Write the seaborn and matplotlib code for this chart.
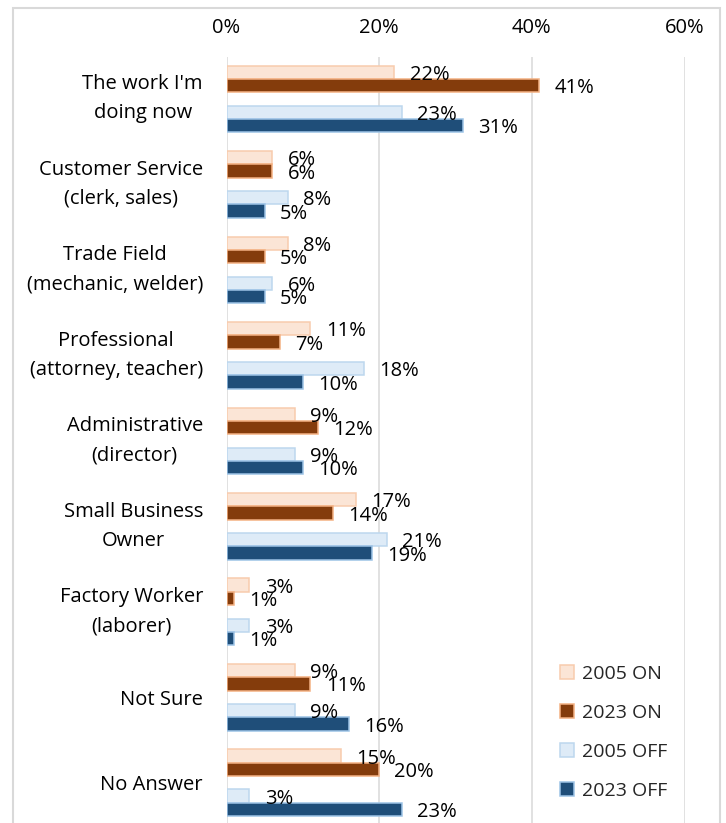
import matplotlib
matplotlib.use("Agg")
import matplotlib.pyplot as plt
from matplotlib.colors import to_hex
from matplotlib.patches import Patch, Rectangle
from matplotlib.ticker import PercentFormatter, MultipleLocator
import numpy as np
import pandas as pd
import seaborn as sns

categories = ["The work I'm\ndoing now", "Customer Service\n(clerk, sales)",
              "Trade Field\n(mechanic, welder)", "Professional\n(attorney, teacher)",
              "Administrative\n(director)", "Small Business\nOwner",
              "Factory Worker\n(laborer)", "Not Sure", "No Answer"]
on_2005 = [22, 6, 8, 11, 9, 17, 3, 9, 15]
on_2023 = [41, 6, 5, 7, 12, 14, 1, 11, 20]
off_2005 = [23, 8, 6, 18, 9, 21, 3, 9, 3]
off_2023 = [31, 5, 5, 10, 10, 19, 1, 16, 23]
series = ["2005 ON", "2023 ON", "2005 OFF", "2023 OFF"]
fills = ["#FBE5D6", "#843C0C", "#DEEBF7", "#1F4E79"]
edges = ["#F8CBAD", "#F4B183", "#BDD7EE", "#9DC3E6"]

df = pd.DataFrame({
    "category": categories * 4,
    "series": np.repeat(series, len(categories)),
    "value": on_2005 + on_2023 + off_2005 + off_2023,
})

sns.set_theme(style="white")
plt.rcParams["font.family"] = ["Open Sans", "DejaVu Sans"]

fig = plt.figure(figsize=(7.26, 8.23), dpi=100)
ax = fig.add_axes([226.5 / 726, 0, (684.5 - 226.5) / 726, 1 - 57 / 823])

# empty slot in the middle gives the gap between ON and OFF pairs
gap = " "
order = series[:2] + [gap] + series[2:]
pal = dict(zip(series, fills))
pal[gap] = "white"
sns.barplot(data=df, y="category", x="value", hue="series", hue_order=order,
            order=categories, palette=pal, orient="h", width=0.78,
            saturation=1, errorbar=None, legend=False, linewidth=1.1, ax=ax)

for cont in ax.containers:
    if len(cont) == 0:
        continue
    fc = to_hex(cont[0].get_facecolor())
    if fc.upper() not in fills:
        continue
    ec = edges[fills.index(fc.upper())]
    for bar in cont:
        bar.set_edgecolor(ec)
    for t in ax.bar_label(cont, fmt="{:.0f}%", padding=11, fontsize=14.5, color="black"):
        t.set_va("center_baseline")

ax.set_xlim(0, 60)
ax.set_ylim(8.47, -0.49)
ax.xaxis.set_major_locator(MultipleLocator(20))
ax.xaxis.set_major_formatter(PercentFormatter(100, decimals=0))
ax.xaxis.tick_top()
ax.tick_params(axis="x", length=0, pad=14, labelsize=14.5, colors="black")
ax.tick_params(axis="y", length=0, pad=17, labelsize=14.5, colors="black")
for lab in ax.get_yticklabels():
    lab.set_multialignment("center")
    if "\n" in lab.get_text():
        lab.set_linespacing(1.6)
        lab.set_va("center")
ax.grid(axis="x", color="#D9D9D9", lw=1.1)
ax.set_axisbelow(True)
for s in ax.spines.values():
    s.set_visible(False)
ax.set_xlabel("")
ax.set_ylabel("")

handles = [Patch(facecolor=f, edgecolor=e, lw=1.1, label=s)
           for s, f, e in zip(series, fills, edges)]
ax.legend(handles=handles, loc="upper left", bbox_to_anchor=(550 / 726, 1 - 655 / 823),
          bbox_transform=fig.transFigure, fontsize=14, frameon=True, fancybox=False,
          framealpha=1, facecolor="white", edgecolor="white", borderaxespad=0,
          borderpad=0.5, handlelength=0.72, handleheight=0.72, handletextpad=0.4,
          labelspacing=1.08)

fig.add_artist(Rectangle((13 / 726, -0.01), (720 - 13) / 726, 1.01 - 8 / 823,
                         transform=fig.transFigure, fill=False,
                         edgecolor="#D9D9D9", lw=1.5))

fig.savefig("out.png", dpi=100)
